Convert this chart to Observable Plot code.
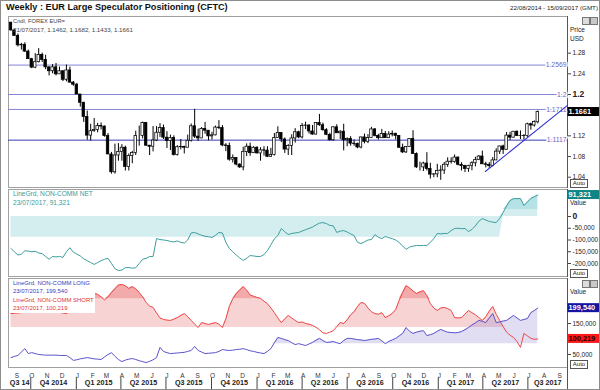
<!DOCTYPE html>
<html><head><meta charset="utf-8">
<script src="https://cdn.jsdelivr.net/npm/d3@7"></script>
<script src="https://cdn.jsdelivr.net/npm/@observablehq/plot@0.6"></script>
<style>
body{margin:0;background:#fff;}
#root{position:relative;width:600px;height:390px;overflow:hidden;font-family:"Liberation Sans",Arial,sans-serif;background:#fff;color:#222;}
.a{position:absolute;white-space:nowrap;line-height:1;}
.s{font-size:6.5px;}
.panel{position:absolute;left:0;}
.auto{position:absolute;left:570px;width:16px;height:7px;border:1px solid #555;font-size:6px;line-height:7px;text-align:center;background:#fff;color:#222;}
.ic{position:absolute;width:6px;height:6px;border:1px solid #777;background:#ddd;}
#frame{position:absolute;left:0;top:0;width:600px;height:390px;border:1px solid #8c8c8c;box-sizing:border-box;pointer-events:none;}
</style></head>
<body><div id="root"></div>
<script>
// ---------- DATA ----------
const firstWeek = "2014-08-22";
const open = [1.3390,1.3240,1.3132,1.2951,1.2962,1.2830,1.2684,1.2520,1.2625,1.2763,1.2670,1.2525,1.2450,1.2525,1.2390,1.2450,1.2285,1.2465,1.2230,1.2190,1.2000,1.1840,1.1565,1.1205,1.1290,1.1315,1.1390,1.1380,1.1195,1.0840,1.0495,1.0820,1.0890,1.0970,1.0600,1.0810,1.0870,1.1200,1.1200,1.1450,1.1010,1.0990,1.1110,1.1260,1.1350,1.1165,1.1100,1.1160,1.0830,1.0980,1.0985,1.0970,1.1105,1.1385,1.1185,1.1150,1.1335,1.1300,1.1190,1.1210,1.1360,1.1350,1.1015,1.1005,1.0740,1.0770,1.0645,1.0590,1.0885,1.0990,1.0865,1.0970,1.0860,1.0920,1.0915,1.0795,1.0830,1.1160,1.1255,1.1130,1.0935,1.1005,1.1150,1.1270,1.1170,1.1390,1.1400,1.1285,1.1225,1.1450,1.1405,1.1310,1.1220,1.1115,1.1365,1.1250,1.1280,1.1115,1.1140,1.1050,1.1045,1.0975,1.1170,1.1085,1.1160,1.1325,1.1200,1.1155,1.1235,1.1155,1.1225,1.1240,1.1200,1.0970,1.0880,1.0985,1.1140,1.0850,1.0590,1.0590,1.0665,1.0560,1.0450,1.0455,1.0520,1.0530,1.0640,1.0700,1.0695,1.0780,1.0640,1.0615,1.0560,1.0620,1.0670,1.0735,1.0800,1.0650,1.0640,1.0615,1.0725,1.0895,1.0995,1.0930,1.1205,1.1165,1.1280,1.1195,1.1200,1.1195,1.1425,1.1400,1.1462];
const high = [1.3395,1.3250,1.3170,1.2990,1.3000,1.2860,1.2700,1.2790,1.2887,1.2800,1.2760,1.2535,1.2580,1.2600,1.2530,1.2456,1.2570,1.2530,1.2250,1.2215,1.2000,1.1850,1.1680,1.1423,1.1534,1.1443,1.1450,1.1390,1.1245,1.0880,1.1040,1.1050,1.1030,1.1000,1.0850,1.0900,1.1290,1.1390,1.1467,1.1450,1.1010,1.1380,1.1380,1.1435,1.1410,1.1280,1.1215,1.1200,1.1010,1.1130,1.1000,1.1215,1.1430,1.1714,1.1330,1.1360,1.1460,1.1300,1.1270,1.1390,1.1495,1.1400,1.1050,1.1060,1.0830,1.0780,1.0660,1.0980,1.1045,1.1060,1.0990,1.0990,1.0970,1.0990,1.0990,1.0960,1.1245,1.1375,1.1260,1.1160,1.1030,1.1220,1.1340,1.1290,1.1440,1.1465,1.1415,1.1400,1.1455,1.1615,1.1445,1.1340,1.1250,1.1375,1.1415,1.1300,1.1425,1.1160,1.1185,1.1120,1.1060,1.1175,1.1235,1.1225,1.1365,1.1340,1.1230,1.1325,1.1285,1.1280,1.1295,1.1250,1.1200,1.1040,1.0990,1.1145,1.1300,1.0870,1.0690,1.0690,1.0875,1.0670,1.0470,1.0650,1.0620,1.0685,1.0775,1.0775,1.0830,1.0790,1.0680,1.0630,1.0630,1.0700,1.0785,1.0820,1.0905,1.0690,1.0680,1.0780,1.0950,1.1000,1.1020,1.1265,1.1270,1.1285,1.1295,1.1295,1.1225,1.1445,1.1445,1.1490,1.1682];
const low = [1.3225,1.3130,1.2920,1.2860,1.2815,1.2680,1.2500,1.2500,1.2610,1.2620,1.2480,1.2360,1.2400,1.2360,1.2390,1.2250,1.2245,1.2220,1.2160,1.2000,1.1755,1.1460,1.1115,1.1098,1.1270,1.1260,1.1315,1.1175,1.0840,1.0460,1.0460,1.0710,1.0710,1.0520,1.0520,1.0660,1.0820,1.1000,1.1140,1.1000,1.0820,1.0890,1.1090,1.1170,1.1130,1.0955,1.0915,1.0810,1.0810,1.0930,1.0850,1.0970,1.1080,1.1150,1.1090,1.1150,1.1230,1.1105,1.1120,1.1200,1.1320,1.0990,1.0895,1.0710,1.0675,1.0620,1.0570,1.0525,1.0800,1.0805,1.0860,1.0850,1.0710,1.0810,1.0780,1.0790,1.0810,1.1160,1.1070,1.0860,1.0820,1.0820,1.1060,1.1145,1.1140,1.1320,1.1235,1.1215,1.1220,1.1385,1.1290,1.1205,1.1100,1.1095,1.1250,1.1130,1.0910,1.0990,1.1000,1.1000,1.0950,1.0950,1.1045,1.1050,1.1160,1.1180,1.1120,1.1150,1.1150,1.1150,1.1180,1.1120,1.0960,1.0860,1.0860,1.0985,1.0850,1.0570,1.0520,1.0510,1.0520,1.0365,1.0390,1.0390,1.0340,1.0455,1.0590,1.0655,1.0670,1.0620,1.0520,1.0490,1.0495,1.0525,1.0600,1.0720,1.0650,1.0580,1.0570,1.0600,1.0720,1.0840,1.0840,1.0925,1.1110,1.1160,1.1190,1.1130,1.1120,1.1170,1.1310,1.1370,1.1433];
const close = [1.3240,1.3132,1.2951,1.2962,1.2830,1.2684,1.2520,1.2625,1.2763,1.2670,1.2525,1.2450,1.2525,1.2390,1.2450,1.2285,1.2465,1.2230,1.2190,1.2000,1.1840,1.1565,1.1205,1.1290,1.1315,1.1390,1.1380,1.1195,1.0840,1.0495,1.0820,1.0890,1.0970,1.0600,1.0810,1.0870,1.1200,1.1200,1.1450,1.1010,1.0990,1.1110,1.1260,1.1350,1.1165,1.1100,1.1160,1.0830,1.0980,1.0985,1.0970,1.1105,1.1385,1.1185,1.1150,1.1335,1.1300,1.1190,1.1210,1.1360,1.1350,1.1015,1.1005,1.0740,1.0770,1.0645,1.0590,1.0885,1.0990,1.0865,1.0970,1.0860,1.0920,1.0915,1.0795,1.0830,1.1160,1.1255,1.1130,1.0935,1.1005,1.1150,1.1270,1.1170,1.1390,1.1400,1.1285,1.1225,1.1450,1.1405,1.1310,1.1220,1.1115,1.1365,1.1250,1.1280,1.1115,1.1140,1.1050,1.1045,1.0975,1.1170,1.1085,1.1160,1.1325,1.1200,1.1155,1.1235,1.1155,1.1225,1.1240,1.1200,1.0970,1.0880,1.0985,1.1140,1.0850,1.0590,1.0590,1.0665,1.0560,1.0450,1.0455,1.0520,1.0530,1.0640,1.0700,1.0695,1.0780,1.0640,1.0615,1.0560,1.0620,1.0670,1.0735,1.0800,1.0650,1.0640,1.0615,1.0725,1.0895,1.0995,1.0930,1.1205,1.1165,1.1280,1.1195,1.1200,1.1195,1.1425,1.1400,1.1470,1.1661];
// CFTC non-commercial positions, thousands of contracts
const netK = [-136,-150,-164,-160,-146,-147,-150,-148,-155,-158,-170,-182,-170,-172,-170,-174,-150,-133,-152,-160,-168,-180,-188,-196,-204,-196,-188,-182,-178,-200,-222,-230,-228,-218,-217,-220,-218,-200,-182,-178,-170,-170,-94,-98,-100,-102,-106,-108,-104,-110,-113,-100,-70,-68,-74,-80,-84,-86,-89,-80,-68,-70,-110,-136,-150,-164,-176,-187,-178,-166,-168,-170,-170,-162,-145,-120,-95,-81,-51,-65,-77,-72,-70,-68,-62,-56,-51,-45,-36,-28,-26,-30,-38,-40,-68,-62,-60,-66,-74,-81,-110,-115,-108,-100,-98,-77,-88,-94,-85,-90,-94,-100,-111,-125,-140,-130,-126,-123,-124,-123,-123,-110,-94,-72,-74,-72,-72,-60,-51,-50,-52,-51,-64,-55,-40,-20,-9,-15,-21,-24,-26,-8,17,45,68,76,76,77,47,62,77,84,91.321];
const longK = [40,44,47,58,69,53,56,53,50,49,48,48,48,48,47,47,47,40,31,33,36,38,40,38,36,35,34,42,50,56,44,34,27,32,35,37,34,30,27,24,28,33,40,73,60,56,53,54,55,56,57,60,63,76,63,58,53,54,55,56,60,66,64,63,64,66,67,69,66,62,60,57,55,53,60,69,88,105,102,98,95,88,82,85,82,79,84,89,96,102,95,89,90,92,88,85,95,102,102,100,98,97,95,97,99,100,102,94,85,92,97,102,110,118,137,125,118,122,125,127,111,114,118,125,131,126,122,121,120,121,124,130,137,145,152,160,157,153,168,182,153,155,158,160,168,176,168,160,163,166,185,192,199.54];
const shortK = [182,183,184,185,186,190,194,196,198,196,194,192,190,188,186,184,182,188,196,205,214,222,232,240,247,244,236,226,236,250,262,274,276,272,263,269,262,250,236,218,206,202,184,168,163,161,160,164,169,176,182,172,160,148,137,153,150,147,150,153,148,137,165,205,230,247,258,269,258,242,238,234,231,222,214,200,185,168,153,165,176,168,160,153,155,150,148,144,138,130,120,118,122,127,140,153,150,162,178,188,205,218,215,200,188,182,180,185,169,175,182,195,224,250,272,265,255,247,252,256,240,214,200,192,200,202,198,192,169,168,169,180,192,185,178,169,160,172,190,205,180,160,140,122,112,105,92,73,118,110,102,99,100.219];
const levels = [1.2569, 1.2, 1.1711, 1.1117];
const levelLabels = ["1.2569", "1.2", "1.1711", "1.1117"];
const trendDates = ["2017-04-06", "2017-09-19"];
const trendPrices = [1.051, 1.179];
const priceTicks = [1.04, 1.08, 1.12, 1.16, 1.2, 1.24, 1.28];
const netTicks = [-200000, -150000, -100000, -50000, 0];
const lsTicks = [50000, 100000, 150000, 200000];
const monthLetters = ["J","F","M","A","M","J","J","A","S","O","N","D"];
const quarterLabels = ["Q3 14","Q4 2014","Q1 2015","Q2 2015","Q3 2015","Q4 2015","Q1 2016","Q2 2016","Q3 2016","Q4 2016","Q1 2017","Q2 2017","Q3 2017"];
const viewStart = "2014-08-17", viewEnd = "2017-09-19";

// ---------- BUILD ----------
const root = document.getElementById("root");
const t0 = new Date(firstWeek + "T00:00Z");
const dates = close.map((_, i) => d3.utcDay.offset(t0, 7 * i));
const candles = dates.map((date, i) => ({date, o: open[i], h: high[i], l: low[i], c: close[i]}));
const net = dates.map((date, i) => ({date, v: netK[i] * 1000}));
const longs = dates.map((date, i) => ({date, v: longK[i] * 1000}));
const shorts = dates.map((date, i) => ({date, v: shortK[i] * 1000}));
const trend = trendDates.map((d, i) => ({date: new Date(d + "T00:00Z"), p: trendPrices[i]}));
const xDomain = [new Date(viewStart + "T00:00Z"), new Date(viewEnd + "T00:00Z")];

const FONT = "Liberation Sans, Arial, sans-serif";
const base = {width: 600, marginLeft: 8, marginRight: 33, marginTop: 0, marginBottom: 0,
  style: {fontFamily: FONT, fontSize: "6.5px", color: "#222", background: "transparent", overflow: "visible"},
  color: {type: "identity"}};
const xOpt = {type: "utc", domain: xDomain, axis: null};

function place(svg, top) {
  const d = document.createElement("div");
  d.className = "panel"; d.style.top = top + "px";
  d.appendChild(svg); root.appendChild(d);
}
function valueBox(svg, v, label, bg, fg) {
  const y = svg.scale("y").apply(v);
  const g = d3.select(svg).append("g").attr("text-anchor", "start");
  g.append("rect").attr("x", 567.5).attr("y", y - 4.5).attr("width", 33).attr("height", 9).attr("fill", bg);
  g.append("text").attr("x", 568.5).attr("y", y).attr("dy", "0.36em").attr("fill", fg).attr("text-anchor", "start")
    .attr("font-size", 7.4).attr("font-weight", "bold").attr("font-family", FONT).text(label);
}
// hide a tick label that sits under the latest-value box
function tickText(last, span, fmt) {
  return d => Math.abs(d - last) < span ? "" : fmt(d);
}
const frames = [Plot.frame({stroke: "#a0a0a0"}), Plot.frame({anchor: "right", stroke: "#555"})];
const lastClose = close[close.length - 1];
const lastNet = net[net.length - 1].v, lastLong = longs[longs.length - 1].v, lastShort = shorts[shorts.length - 1].v;

// Panel 1: price candles
const half = 60; // hours either side of the week date for the candle body
const p1 = Plot.plot({...base, height: 171, x: xOpt,
  y: {domain: [1.0201, 1.3509], axis: null},
  marks: [
    ...frames,
    Plot.ruleY(levels, {y: d => d, stroke: d => d === 1.1117 ? "#3a3ab4" : "#8484d6", strokeWidth: 1}),
    Plot.text(levels, {y: d => d, text: (d, i) => levelLabels[i], frameAnchor: "right", textAnchor: "end", dx: -1,
      fill: "#6f5fc4", stroke: "#fff", strokeWidth: 3, fontSize: 6.8}),
    Plot.ruleX(candles, {x: "date", y1: "l", y2: "h", stroke: "#000", strokeWidth: 1}),
    Plot.rect(candles, {x1: d => d3.utcHour.offset(d.date, -half), x2: d => d3.utcHour.offset(d.date, half),
      y1: "o", y2: "c", fill: d => d.c >= d.o ? "#fff" : "#000", stroke: "#000", strokeWidth: 0.75}),
    Plot.line(trend, {x: "date", y: "p", stroke: "#3434d2", strokeWidth: 1.1}),
    Plot.axisY({anchor: "right", ticks: priceTicks, tickSize: 3, tickPadding: 2, fontSize: 6.5,
      tickFormat: tickText(lastClose, 0.012, d => d === 1.2 ? "" : String(d)), stroke: "#444"}),
    Plot.text([1.2], {y: d => d, text: d => String(d), frameAnchor: "right", dx: 5, textAnchor: "start",
      fontWeight: "bold", fontSize: 8.5, fill: "#222"})
  ]});
valueBox(p1, lastClose, lastClose.toFixed(4), "#000", "#fff");
place(p1, 16);

// Panel 2: net
const netBandLow = -88000, netHi = 30000;
const p2 = Plot.plot({...base, height: 87, x: xOpt,
  y: {domain: [-255300, 114900], axis: null},
  marks: [
    Plot.areaY(net, {x: "date", y1: d => d.v < 0 ? netBandLow : 0, y2: d => d.v < 0 ? 0 : d.v, fill: "#d4eef0"}),
    Plot.areaY(net, {x: "date", y1: () => netHi, y2: d => Math.max(d.v, netHi), fill: "#b4e2e5"}),
    Plot.line(net, {x: "date", y: "v", stroke: "#3c9e9e", strokeWidth: 1}),
    ...frames,
    Plot.axisY({anchor: "right", ticks: netTicks, tickSize: 3, tickPadding: 2, fontSize: 6.5,
      tickFormat: tickText(lastNet, 30000, d => d === 0 ? "" : d.toLocaleString("en-US")), stroke: "#444"}),
    Plot.text([0], {y: d => d, text: d => String(d), frameAnchor: "right", dx: 5, textAnchor: "start",
      fontWeight: "bold", fontSize: 8.5, fill: "#222"})
  ]});
valueBox(p2, lastNet, Math.round(lastNet).toLocaleString("en-US"), "#0f8585", "#fff");
place(p2, 189);

// Panel 3: long / short
const shortBase = 137000, shortHi = 230000, longBase = 85000;
const p3 = Plot.plot({...base, height: 89, x: xOpt,
  y: {domain: [8100, 295200], axis: null},
  marks: [
    Plot.areaY(shorts, {x: "date", y1: () => shortBase, y2: d => Math.max(d.v, shortBase), fill: "#f8d3d3"}),
    Plot.areaY(shorts, {x: "date", y1: () => shortHi, y2: d => Math.max(d.v, shortHi), fill: "#f2aaaa"}),
    Plot.areaY(longs, {x: "date", y1: () => longBase, y2: d => Math.max(d.v, longBase), fill: "#9c8fd8", fillOpacity: 0.3}),
    Plot.line(shorts, {x: "date", y: "v", stroke: "#f04646", strokeWidth: 1}),
    Plot.line(longs, {x: "date", y: "v", stroke: "#5a54cc", strokeWidth: 1}),
    ...frames,
    Plot.axisY({anchor: "right", ticks: lsTicks, tickSize: 3, tickPadding: 2, fontSize: 6.5,
      tickFormat: d => (Math.abs(d - lastLong) < 20000 || Math.abs(d - lastShort) < 20000) ? "" : d.toLocaleString("en-US"), stroke: "#444"})
  ]});
valueBox(p3, lastLong, Math.round(lastLong).toLocaleString("en-US"), "#1414a0", "#fff");
valueBox(p3, lastShort, Math.round(lastShort).toLocaleString("en-US"), "#ff1a1a", "#2a0000");
place(p3, 278);

// Time axis
const monthStarts = d3.utcMonth.range(d3.utcMonth.ceil(xDomain[0]), xDomain[1]);
const qBounds = d3.utcMonth.every(3).range(d3.utcMonth.every(3).floor(xDomain[0]), d3.utcMonth.offset(xDomain[1], 3));
const quarters = quarterLabels.map((label, i) => {
  const s = Math.max(+qBounds[i], +xDomain[0]), e = Math.min(+qBounds[i + 1], +xDomain[1]);
  return {label, mid: new Date((s + e) / 2)};
});
const quarterStarts = qBounds.filter(d => d > xDomain[0] && d < xDomain[1]);
const p4 = Plot.plot({...base, height: 23, x: xOpt,
  marks: [
    Plot.text(monthStarts, {x: d => d, text: d => monthLetters[d.getUTCMonth()], frameAnchor: "top", dy: 5.5, dx: 1,
      fontSize: 6.5, fill: "#333"}),
    Plot.ruleX(quarterStarts, {x: d => d, insetTop: 10.5, insetBottom: 1, stroke: "#444"}),
    Plot.text(quarters, {x: "mid", text: "label", frameAnchor: "bottom", dy: -6, fontWeight: "bold", fontSize: 7.2, fill: "#1a1a1a"}),
    Plot.frame({anchor: "right", stroke: "#555"})
  ]});
place(p4, 367);

// Text overlays
function addDiv(cls, html, css) {
  const d = document.createElement("div");
  d.className = cls; d.innerHTML = html; Object.assign(d.style, css); root.appendChild(d); return d;
}
// scale an overlay's font so that its width matches the reference width
function fit(el, w) {
  const cur = el.getBoundingClientRect().width;
  const fs = parseFloat(getComputedStyle(el).fontSize);
  el.style.fontSize = (fs * w / cur).toFixed(2) + "px";
  return parseFloat(el.style.fontSize);
}
const title = addDiv("a", "Weekly : EUR Large Speculator Positioning (CFTC)", {left: "6px", top: "3px", fontSize: "10px", fontWeight: "bold", color: "#111"});
fit(title, 222);
const range = addDiv("a", "22/08/2014 - 15/09/2017 (GMT)", {right: "2px", top: "5px", fontSize: "7px", color: "#222"});
fit(range, 88);
const c1 = addDiv("a", "Cndl, FOREX EUR=", {left: "13px", top: "19px", fontSize: "7px", color: "#444"});
fit(c1, 52);
const c2 = addDiv("a", "21/07/2017, " + [open, high, low, close].map(a => a[a.length - 1].toFixed(4)).join(", "),
  {left: "13px", top: "27px", fontSize: "7px", color: "#444"});
fit(c2, 120);
const n1 = addDiv("a", "LineGrd, NON-COMM NET", {left: "13px", top: "191px", fontSize: "6.5px", color: "#3a9a9a"});
const fsn = fit(n1, 80);
addDiv("a", "23/07/2017, " + Math.round(lastNet).toLocaleString("en-US"), {left: "13px", top: "199.5px", fontSize: fsn + "px", color: "#3a9a9a"});
addDiv("", "", {position: "absolute", left: "11px", top: "279px", width: "84px", height: "34px", background: "#fff"});
const l1 = addDiv("a", "LineGrd, NON-COMM LONG", {left: "13px", top: "280.5px", fontSize: "6.5px", color: "#3b3bbf"});
const fsl = fit(l1, 77);
addDiv("a", "23/07/2017, " + Math.round(lastLong).toLocaleString("en-US"), {left: "13px", top: "288.5px", fontSize: fsl + "px", color: "#3b3bbf"});
addDiv("a", "LineGrd, NON-COMM SHORT", {left: "13px", top: "297.5px", fontSize: fsl + "px", color: "#e03434"});
addDiv("a", "23/07/2017, " + Math.round(lastShort).toLocaleString("en-US"), {left: "13px", top: "306px", fontSize: fsl + "px", color: "#e03434"});
addDiv("a s", "Price", {left: "570px", top: "27px"});
addDiv("a s", "USD", {left: "570px", top: "36px"});
addDiv("a s", "Value", {left: "570px", top: "200px"});
addDiv("a s", "Value", {left: "570px", top: "289px"});
for (const top of [179, 269, 360]) addDiv("auto", "Auto", {top: top + "px"});
for (const top of [17, 280]) {
  addDiv("ic", "", {left: "582px", top: top + "px"});
  addDiv("ic", "", {left: "590px", top: top + "px", background: "#c8c8c8"});
}
addDiv("", "", {}).id = "frame";
</script></body></html>
